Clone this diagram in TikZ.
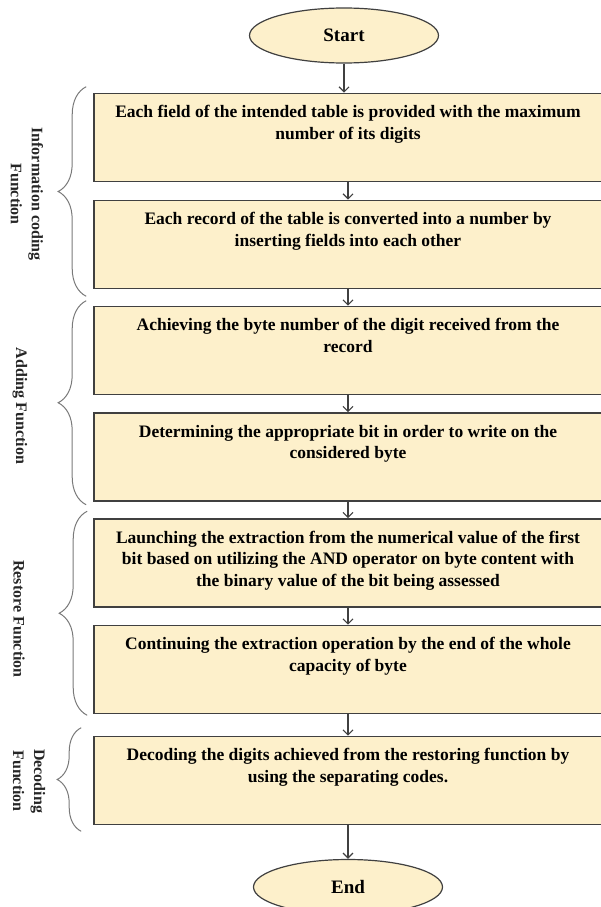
\documentclass[tikz,border=0pt]{standalone}
\usepackage{fontspec}
\setmainfont{Liberation Serif}
\usetikzlibrary{shapes.geometric, arrows.meta, decorations.pathreplacing}
\definecolor{boxfill}{RGB}{253,240,203}
\definecolor{edge}{RGB}{64,64,64}
\newcommand{\boxtxt}[1]{\parbox[c][88pt][t]{500pt}{\centering\vspace*{12pt}#1}}

\begin{document}
\begin{tikzpicture}[x=1pt, y=-1pt, thick, font=\bfseries\fontsize{17.5}{21.5}\selectfont,
  main/.style = {draw=edge, line width=1.6pt, fill=boxfill, inner sep=0pt, minimum width=508pt, minimum height=88pt},
  term/.style = {draw=edge, line width=1.2pt, fill=boxfill, ellipse, inner sep=0pt, minimum width=189pt, minimum height=55pt, font=\bfseries\fontsize{19}{22}\selectfont},
  arr/.style = {draw=edge, line width=1.2pt, -{Straight Barb[length=5pt,width=10pt]}},
  grp/.style = {draw=edge!70, line width=1pt, decorate, decoration={brace, amplitude=#1}},
  lbl/.style = {rotate=-90, align=center, text=black!85, font=\bfseries\fontsize{16}{21}\selectfont}]
\useasboundingbox (0,0) rectangle (600,907);
\node[term] (s) at (344,35.5) {Start};
\node[main] (1) at (348,137.5) {\boxtxt{Each field of the intended table is provided with the maximum\\ number of its digits}};
\node[main] (2) at (348,244.5) {\boxtxt{Each record of the table is converted into a number by\\ inserting fields into each other}};
\node[main] (3) at (348,350.5) {\boxtxt{Achieving the byte number of the digit received from the\\ record}};
\node[main] (4) at (348,457) {\boxtxt{Determining the appropriate bit in order to write on the\\ considered byte}};
\node[main] (5) at (348,563) {\boxtxt{Launching the extraction from the numerical value of the first\\ bit based on utilizing the AND operator on byte content with\\ the binary value of the bit being assessed}};
\node[main] (6) at (348,669.5) {\boxtxt{Continuing the extraction operation by the end of the whole\\ capacity of byte}};
\node[main] (7) at (348,780.5) {\boxtxt{Decoding the digits achieved from the restoring function by\\ using the separating codes.}};
\node[term] (e) at (348,887) {End};
\draw[arr] (s) -- (s |- 1.north);
\foreach \a/\b in {1/2, 2/3, 3/4, 4/5, 5/6, 6/7}
  \draw[arr] (\a) -- (\b);
\draw[arr] (7) -- (e);
% groups of steps
\draw[grp=28pt] ([shift={(-7pt,-7pt)}]2.south west) -- ([shift={(-7pt,6pt)}]1.north west);
\draw[grp=28pt] ([shift={(-7pt,-3pt)}]4.south west) -- ([shift={(-7pt,5pt)}]3.north west);
\draw[grp=28pt] ([shift={(-6pt,-1pt)}]6.south west) -- ([shift={(-6pt,7pt)}]5.north west);
\draw[grp=24pt] ([shift={(-12pt,-6pt)}]7.south west) -- ([shift={(-12pt,8pt)}]7.north west);
\node[lbl] (l1) at (27,194) {Information coding\\Function};
\node[lbl] (l2) at (20,406) {Adding Function};
\node[lbl] (l3) at (19,619) {Restore Function};
\node[lbl] (l4) at (29,781) {Decoding\\Function};
\end{tikzpicture}
\end{document}
